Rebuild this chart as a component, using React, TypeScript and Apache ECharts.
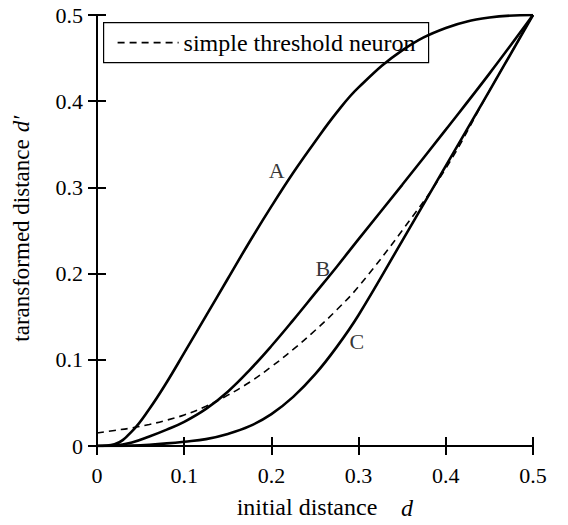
import React, { useEffect, useRef } from "react";
import * as echarts from "echarts";

const dValues = [0, 0.02, 0.04, 0.06, 0.08, 0.1, 0.125, 0.15, 0.175, 0.2, 0.225, 0.25, 0.275, 0.3, 0.35, 0.4, 0.45, 0.5];
const curveA = [0, 0.002, 0.017, 0.043, 0.074, 0.108, 0.151, 0.194, 0.237, 0.278, 0.317, 0.353, 0.387, 0.416, 0.459, 0.485, 0.497, 0.5];
const curveB = [0, 0.0005, 0.004, 0.011, 0.019, 0.028, 0.043, 0.063, 0.088, 0.116, 0.146, 0.177, 0.208, 0.24, 0.303, 0.367, 0.432, 0.5];
const curveC = [0, 0, 0.0005, 0.0015, 0.003, 0.005, 0.008, 0.014, 0.023, 0.037, 0.057, 0.083, 0.115, 0.152, 0.238, 0.325, 0.412, 0.5];
const threshold = [0.015, 0.018, 0.021, 0.025, 0.03, 0.036, 0.046, 0.059, 0.074, 0.092, 0.112, 0.134, 0.158, 0.185, 0.25, 0.322, 0.412, 0.5];
const curveLabels: [number, number, string][] = [
  [0.206, 0.32, "A"],
  [0.259, 0.206, "B"],
  [0.298, 0.121, "C"],
];
const legendName = "simple threshold neuron";
const xName = "initial distance";
const xSymbol = "d";
const yName = "taransformed distance";
const ySymbol = "d\u2032";

const FONT = "Liberation Serif";

export default function App() {
  const ref = useRef<HTMLDivElement>(null);
  useEffect(() => {
    if (!ref.current) return;
    const chart = echarts.init(ref.current, undefined, { renderer: "svg" });
    const zip = (ys: number[]) => dValues.map((d, i) => [d, ys[i]]);
    const solid = (name: string, ys: number[]) => ({
      name,
      type: "line",
      data: zip(ys),
      smooth: 0.4,
      symbol: "none",
      lineStyle: { color: "#000", width: 2.6 },
      z: 3,
    });
    const axisCommon = {
      type: "value",
      min: 0,
      max: 0.5,
      interval: 0.1,
      splitLine: { show: false },
      axisLine: { show: true, lineStyle: { color: "#000", width: 2 } },
      axisTick: { show: true, inside: true, length: 9, lineStyle: { color: "#000", width: 2 } },
    };
    const labelStyle = {
      color: "#000",
      fontFamily: FONT,
      fontSize: 22,
      formatter: (v: number) => (v === 0 ? "0" : String(Math.round(v * 10) / 10)),
    };
    chart.setOption({
      animation: false,
      backgroundColor: "#fff",
      grid: { left: 97, right: 35, top: 15, bottom: 79, containLabel: false },
      xAxis: [
        {
          ...axisCommon,
          position: "bottom",
          axisLabel: { ...labelStyle, margin: 18 },
          name: xName,
          nameLocation: "middle",
          nameGap: 49,
          nameTextStyle: { color: "#000", fontFamily: FONT, fontSize: 24, padding: [0, 16, 0, 0] },
        },
        { ...axisCommon, position: "top", axisLabel: { show: false } },
      ],
      yAxis: [
        {
          ...axisCommon,
          position: "left",
          axisLabel: { ...labelStyle, margin: 14 },
          name: yName,
          nameLocation: "middle",
          nameGap: 64,
          nameTextStyle: { color: "#000", fontFamily: FONT, fontSize: 23, padding: [0, 20, 0, 0] },
        },
        { ...axisCommon, position: "right", axisLabel: { show: false } },
      ],
      graphic: [
        {
          type: "text",
          id: "xSym",
          x: 401,
          y: 508,
          z: 20,
          style: {
            text: xSymbol,
            fontFamily: FONT,
            fontStyle: "italic",
            fontSize: 24,
            fill: "#000",
            align: "left",
            verticalAlign: "middle",
          },
        },
        {
          type: "text",
          id: "ySym",
          x: 21,
          y: 124,
          rotation: Math.PI / 2,
          z: 20,
          style: {
            text: ySymbol,
            fontFamily: FONT,
            fontStyle: "italic",
            fontSize: 23,
            fill: "#000",
            align: "center",
            verticalAlign: "middle",
          },
        },
        {
          type: "group",
          id: "legendBox",
          left: 103,
          top: 22,
          z: 20,
          children: [
            {
              type: "rect",
              shape: { x: 0, y: 0, width: 325, height: 40 },
              style: { fill: "#fff", stroke: "#000", lineWidth: 1.2 },
            },
            {
              type: "line",
              shape: { x1: 14, y1: 20, x2: 75, y2: 20 },
              style: { stroke: "#000", lineWidth: 1.6, lineDash: [7, 5] },
            },
            {
              type: "text",
              x: 80,
              y: 20,
              style: {
                text: legendName,
                fontFamily: FONT,
                fontSize: 24,
                fill: "#000",
                align: "left",
                verticalAlign: "middle",
              },
            },
          ],
        },
      ],
      series: [
        solid("A", curveA),
        solid("B", curveB),
        solid("C", curveC),
        {
          name: legendName,
          type: "line",
          data: zip(threshold),
          smooth: 0.4,
          symbol: "none",
          lineStyle: { color: "#000", width: 1.6, type: [7, 5] },
          itemStyle: { color: "#000" },
          z: 2,
        },
        {
          name: "labels",
          type: "scatter",
          data: curveLabels.map(([x, y, t]) => ({ value: [x, y], name: t })),
          symbolSize: 0,
          silent: true,
          label: {
            show: true,
            position: "inside",
            formatter: (p: any) => p.name,
            color: "#000",
            fontFamily: FONT,
            fontSize: 22,
          },
        },
      ],
    });
    return () => chart.dispose();
  }, []);
  return (
    <div
      ref={ref}
      style={{ position: "fixed", left: 0, top: 0, width: 568, height: 525, background: "#fff" }}
    />
  );
}
